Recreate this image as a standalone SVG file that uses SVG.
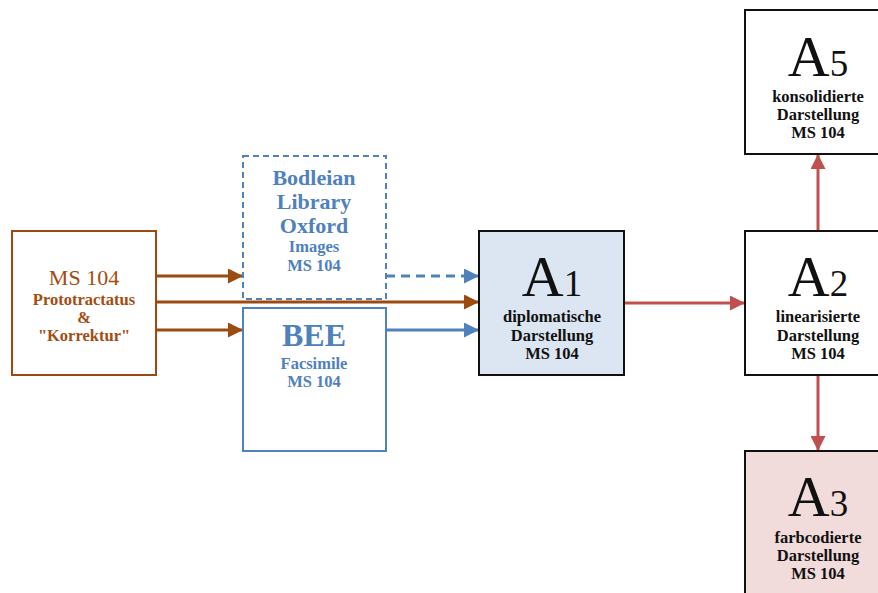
<svg xmlns="http://www.w3.org/2000/svg" width="878" height="593" viewBox="0 0 878 593">
<defs>
<style>
text{font-family:"Liberation Serif","DejaVu Serif",serif;text-anchor:middle}
.br{fill:#a34d10}
.bl{fill:#4f81bd}
.k{fill:#111}
.s{font-size:16.5px;font-weight:bold}
.big{font-size:58px}
.sub{font-size:37px}
.box{stroke-width:2}
</style>
<marker id="mBr" viewBox="0 0 10 10" refX="10" refY="5" markerWidth="5" markerHeight="5" orient="auto" markerUnits="strokeWidth"><path d="M0,0L10,5L0,10z" fill="#9c4a0f"/></marker>
<marker id="mBl" viewBox="0 0 10 10" refX="10" refY="5" markerWidth="5" markerHeight="5" orient="auto" markerUnits="strokeWidth"><path d="M0,0L10,5L0,10z" fill="#4f81bd"/></marker>
<marker id="mRd" viewBox="0 0 10 10" refX="10" refY="5" markerWidth="5" markerHeight="5" orient="auto" markerUnits="strokeWidth"><path d="M0,0L10,5L0,10z" fill="#c0504d"/></marker>
</defs>
<rect width="878" height="593" fill="#fff"/>
<g id="connectors" fill="none" stroke-width="3">
<line x1="156" y1="276" x2="243" y2="276" stroke="#9c4a0f" marker-end="url(#mBr)"/>
<line x1="156" y1="302" x2="479" y2="302" stroke="#9c4a0f" marker-end="url(#mBr)"/>
<line x1="156" y1="330" x2="243" y2="330" stroke="#9c4a0f" marker-end="url(#mBr)"/>
<line x1="386" y1="276" x2="479" y2="276" stroke="#4f81bd" stroke-dasharray="9,6" marker-end="url(#mBl)"/>
<line x1="386" y1="330" x2="479" y2="330" stroke="#4f81bd" marker-end="url(#mBl)"/>
<line x1="624" y1="303" x2="745" y2="303" stroke="#c0504d" marker-end="url(#mRd)"/>
<line x1="818" y1="231" x2="818" y2="154" stroke="#c0504d" marker-end="url(#mRd)"/>
<line x1="818" y1="375" x2="818" y2="451" stroke="#c0504d" marker-end="url(#mRd)"/>
</g>
<g id="ms104">
<rect class="box" x="12" y="231" width="144" height="144" fill="#fff" stroke="#9c4a0f"/>
<text class="br" x="84" y="285" font-size="22">MS 104</text>
<text class="br s" x="84" y="305">Prototractatus</text>
<text class="br s" x="84" y="323">&amp;</text>
<text class="br s" x="84" y="341">"Korrektur"</text>
</g>
<g id="bodleian">
<rect class="box" x="243" y="156" width="143" height="143" fill="#fff" stroke="#4f81bd" stroke-dasharray="6,4"/>
<text class="bl" x="314" y="185" font-size="22" font-weight="bold">Bodleian</text>
<text class="bl" x="314" y="209" font-size="22" font-weight="bold">Library</text>
<text class="bl" x="314" y="233" font-size="22" font-weight="bold">Oxford</text>
<text class="bl s" x="314" y="252">Images</text>
<text class="bl s" x="314" y="271">MS 104</text>
</g>
<g id="bee">
<rect class="box" x="243" y="308" width="143" height="143" fill="#fff" stroke="#4f81bd"/>
<text class="bl" x="314" y="346" font-size="32" font-weight="bold">BEE</text>
<text class="bl s" x="314" y="369">Facsimile</text>
<text class="bl s" x="314" y="387">MS 104</text>
</g>
<g id="a1">
<rect class="box" x="479" y="231" width="145" height="144" fill="#dce6f2" stroke="#111"/>
<text class="k" x="552" y="296"><tspan class="big">A</tspan><tspan class="sub">1</tspan></text>
<text class="k s" x="552" y="322">diplomatische</text>
<text class="k s" x="552" y="341">Darstellung</text>
<text class="k s" x="552" y="359">MS 104</text>
</g>
<g id="a2">
<rect class="box" x="745" y="231" width="145" height="144" fill="#fff" stroke="#111"/>
<text class="k" x="818" y="296"><tspan class="big">A</tspan><tspan class="sub">2</tspan></text>
<text class="k s" x="818" y="322">linearisierte</text>
<text class="k s" x="818" y="341">Darstellung</text>
<text class="k s" x="818" y="359">MS 104</text>
</g>
<g id="a5">
<rect class="box" x="745" y="10" width="145" height="144" fill="#fff" stroke="#111"/>
<text class="k" x="818" y="76"><tspan class="big">A</tspan><tspan class="sub">5</tspan></text>
<text class="k s" x="818" y="102">konsolidierte</text>
<text class="k s" x="818" y="120">Darstellung</text>
<text class="k s" x="818" y="138">MS 104</text>
</g>
<g id="a3">
<rect class="box" x="745" y="451" width="145" height="144" fill="#f2dcdb" stroke="#111"/>
<text class="k" x="818" y="516"><tspan class="big">A</tspan><tspan class="sub">3</tspan></text>
<text class="k s" x="818" y="543">farbcodierte</text>
<text class="k s" x="818" y="561">Darstellung</text>
<text class="k s" x="818" y="579">MS 104</text>
</g>
</svg>
